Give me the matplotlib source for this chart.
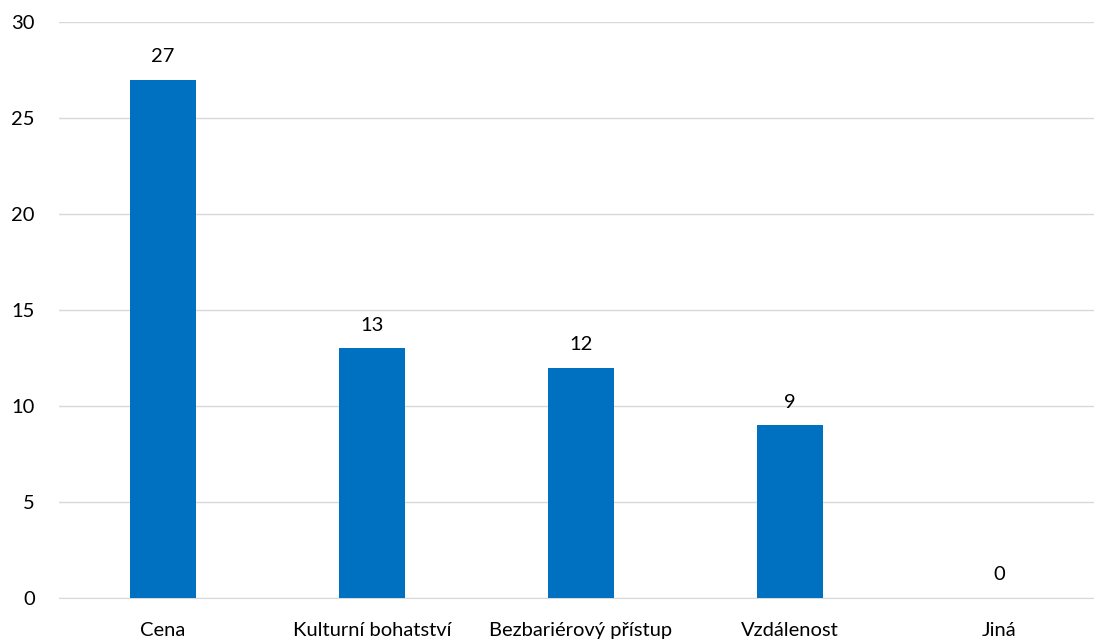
import matplotlib
matplotlib.use("Agg")
import matplotlib.pyplot as plt

# data
categories = ["Cena", "Kulturní bohatství", "Bezbariérový přístup", "Vzdálenost", "Jiná"]
values = [27, 13, 12, 9, 0]

plt.rcParams['font.family'] = ['Lato', 'DejaVu Sans']

fig = plt.figure(figsize=(10.94, 6.4), dpi=100)
ax = fig.add_axes([58.5 / 1094, 42 / 640, 1 - 58.5 / 1094, 576 / 640])

x = range(len(categories))
bars = ax.bar(x, values, width=0.316, color="#0070C0", zorder=3)

for xi, v in zip(x, values):
    ax.annotate(str(v), (xi, v), xytext=(0, 10.5), textcoords="offset points",
                ha="center", va="bottom", fontsize=14.5, color="#000000")

ax.set_ylim(0, 30)
ax.set_yticks(range(0, 31, 5))
ax.set_xlim(-0.5, 4.455)
ax.set_xticks(list(x))
ax.set_xticklabels(categories)
ax.yaxis.grid(True, color="#D9D9D9", linewidth=1, zorder=0)
ax.tick_params(axis="both", length=0, labelsize=14.5, colors="#000000")
ax.tick_params(axis="y", pad=17)
ax.tick_params(axis="x", pad=17.5)
for side in ["top", "right", "left"]:
    ax.spines[side].set_visible(False)
ax.spines["bottom"].set_color("#D9D9D9")

fig.savefig("out.png", dpi=100)
